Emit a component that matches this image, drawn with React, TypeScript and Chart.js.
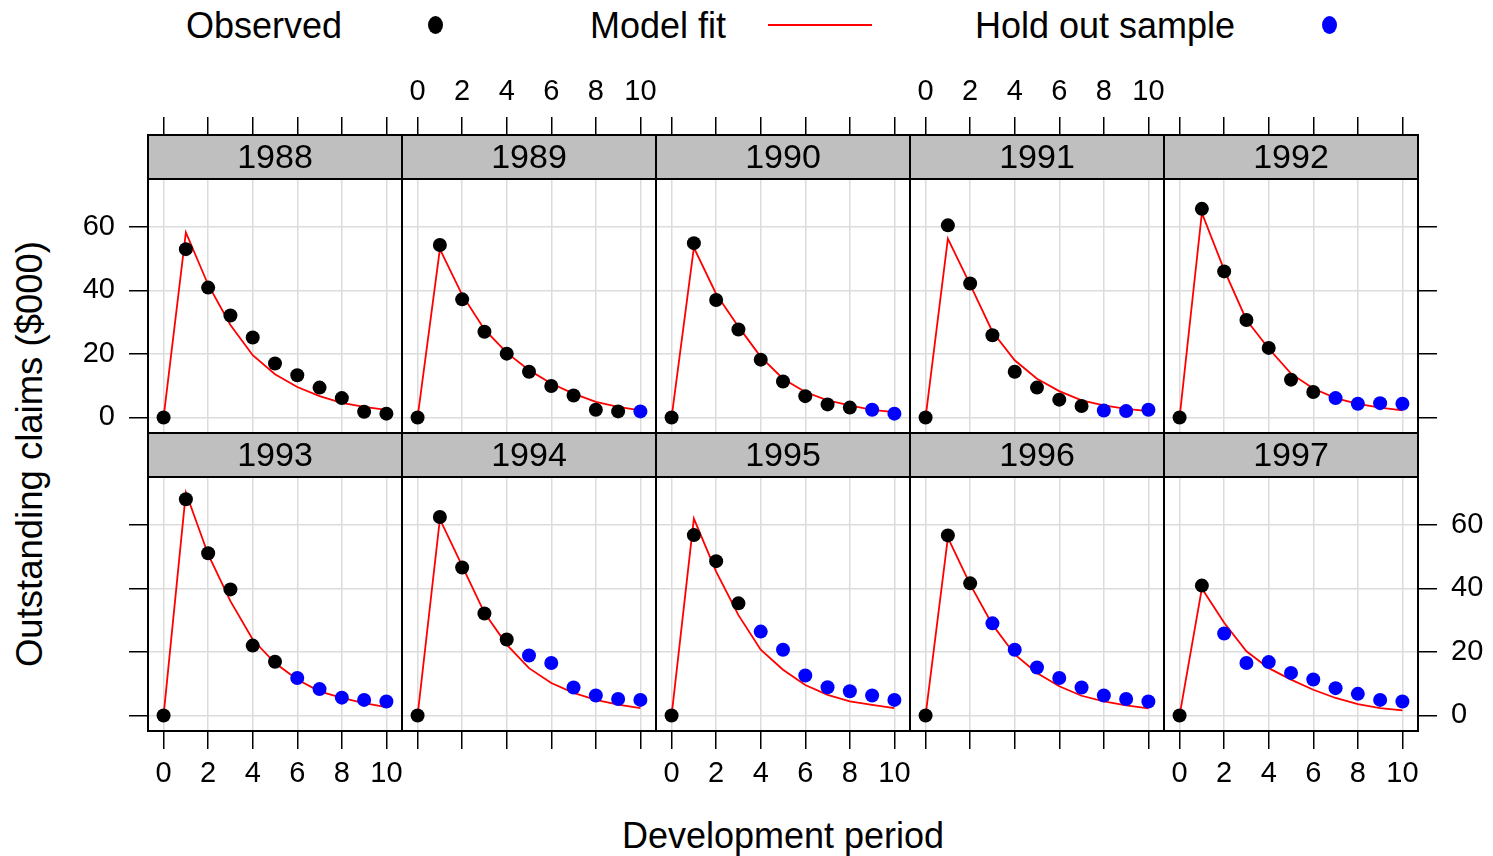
import { useEffect, useRef } from 'react';
import { Chart, registerables } from 'chart.js';

Chart.register(...registerables);

// ---- data -------------------------------------------------------------
const devPeriods = [0, 1, 2, 3, 4, 5, 6, 7, 8, 9, 10];
const accidentYears = ['1988', '1989', '1990', '1991', '1992', '1993', '1994', '1995', '1996', '1997'];
// number of leading development periods that are observed; the rest are hold-out
const observedCounts = [11, 10, 9, 8, 7, 6, 5, 4, 3, 2];

// outstanding claims ($000) by development period
const claims1988 = [0, 53.0, 40.9, 32.1, 25.2, 17.0, 13.3, 9.4, 6.1, 1.8, 1.2];
const claims1989 = [0, 54.3, 37.2, 27.0, 20.1, 14.4, 9.9, 6.9, 2.4, 1.9, 1.9];
const claims1990 = [0, 54.9, 37.0, 27.7, 18.2, 11.3, 6.7, 4.1, 3.1, 2.4, 1.2];
const claims1991 = [0, 60.5, 42.2, 25.9, 14.4, 9.4, 5.6, 3.6, 2.2, 2.0, 2.4];
const claims1992 = [0, 65.7, 46.0, 30.7, 21.9, 11.9, 8.0, 6.1, 4.3, 4.5, 4.3];
const claims1993 = [0, 68.1, 51.1, 39.7, 22.0, 16.9, 11.8, 8.3, 5.6, 4.9, 4.4];
const claims1994 = [0, 62.5, 46.6, 32.1, 23.9, 18.9, 16.5, 8.8, 6.3, 5.2, 4.9];
const claims1995 = [0, 56.8, 48.6, 35.3, 26.4, 20.7, 12.6, 8.9, 7.6, 6.3, 4.9];
const claims1996 = [0, 56.7, 41.6, 29.0, 20.7, 15.1, 11.8, 8.8, 6.3, 5.2, 4.4];
const claims1997 = [0, 40.9, 25.8, 16.5, 16.8, 13.4, 11.3, 8.6, 6.8, 4.9, 4.4];

// fitted model values ($000) by development period
const fit1988 = [0, 58.3, 41.8, 29.1, 19.6, 13.6, 9.6, 6.7, 4.6, 3.3, 2.4];
const fit1989 = [0, 53.0, 38.6, 27.7, 20.4, 14.9, 10.7, 7.5, 4.9, 3.3, 2.2];
const fit1990 = [0, 53.5, 38.9, 28.6, 19.1, 12.2, 8.0, 5.4, 3.8, 2.4, 1.7];
const fit1991 = [0, 56.3, 41.8, 27.0, 18.0, 12.2, 8.3, 5.4, 3.8, 2.7, 2.0];
const fit1992 = [0, 64.4, 46.5, 30.7, 21.7, 13.8, 9.1, 6.1, 4.3, 3.1, 2.2];
const fit1993 = [0, 70.2, 50.7, 36.0, 23.9, 16.5, 11.3, 7.6, 5.5, 3.9, 2.6];
const fit1994 = [0, 61.8, 47.1, 32.3, 22.3, 14.9, 10.2, 7.1, 4.9, 3.4, 2.3];
const fit1995 = [0, 62.0, 45.3, 31.6, 20.7, 14.4, 9.6, 6.5, 4.4, 3.3, 2.3];
const fit1996 = [0, 56.0, 41.3, 28.6, 19.2, 13.4, 9.2, 6.2, 4.4, 3.2, 2.2];
const fit1997 = [0, 40.0, 29.2, 20.2, 14.9, 11.3, 8.1, 5.5, 3.6, 2.3, 1.6];

const claimsByYear = [claims1988, claims1989, claims1990, claims1991, claims1992, claims1993, claims1994, claims1995, claims1996, claims1997];
const fitByYear = [fit1988, fit1989, fit1990, fit1991, fit1992, fit1993, fit1994, fit1995, fit1996, fit1997];

const xTickValues = [0, 2, 4, 6, 8, 10];
const yTickValues = [0, 20, 40, 60];

// ---- layout & style ----------------------------------------------------
const FONT = '"Liberation Sans", Arial, Helvetica, sans-serif';
const GRID = '#dcdcdc';
const STRIP_FILL = '#bfbfbf';
const OBS_COLOR = '#000000';
const HOLD_COLOR = '#0000ff';
const FIT_COLOR = '#ff0000';

const X_MIN = -0.7;
const X_MAX = 10.7;
const Y_MIN = -4.9;
const Y_MAX = 75.1;

const PANEL_LEFT = 148;
const PANEL_W = 254;
const STRIP_H = 44;
const PLOT_H = 254;
const ROW_TOP = [135, 433];

const LEFT_AXIS_W = 90;
const RIGHT_AXIS_W = 75;
const TOP_AXIS_H = 75;
const BOTTOM_AXIS_H = 70;

// the strip sits inside the chart area, above the data region
const Y_TOP = Y_MAX + ((Y_MAX - Y_MIN) * STRIP_H) / PLOT_H;

function Panel({ index }: { index: number }) {
  const ref = useRef<HTMLCanvasElement>(null);
  const row = Math.floor(index / 5);
  const col = index % 5;
  const hasLeft = col === 0;
  const hasRight = col === 4;
  const hasTop = row === 0;
  const hasBottom = row === 1;
  const showXLabels = hasTop ? col === 1 || col === 3 : col % 2 === 0;
  const showYLabels = (hasTop && hasLeft) || (hasBottom && hasRight);

  const lw = hasLeft ? LEFT_AXIS_W : 0;
  const rw = hasRight ? RIGHT_AXIS_W : 0;
  const th = hasTop ? TOP_AXIS_H : 0;
  const bh = hasBottom ? BOTTOM_AXIS_H : 0;
  const left = PANEL_LEFT + col * PANEL_W - lw;
  const top = ROW_TOP[row] - th;
  const width = lw + PANEL_W + rw;
  const height = th + STRIP_H + PLOT_H + bh;

  useEffect(() => {
    const canvas = ref.current;
    if (!canvas) return;
    const values = claimsByYear[index];
    const fitted = fitByYear[index];
    const nObs = observedCounts[index];
    const observed = values.slice(0, nObs).map((v, i) => ({ x: devPeriods[i], y: v }));
    const holdout = values.slice(nObs).map((v, i) => ({ x: devPeriods[nObs + i], y: v }));
    const fitLine = fitted.map((v, i) => ({ x: devPeriods[i], y: v }));
    const label = accidentYears[index];

    const zeroPad = (s: any) => {
      s.paddingLeft = 0;
      s.paddingRight = 0;
      s.paddingTop = 0;
      s.paddingBottom = 0;
    };

    const framePlugin = {
      id: 'panelFrame',
      beforeDatasetsDraw(chart: any) {
        const { ctx, chartArea: a } = chart;
        const yScale = chart.scales.y;
        const stripBottom = Math.round(yScale.getPixelForValue(Y_MAX));
        ctx.save();
        ctx.fillStyle = STRIP_FILL;
        ctx.fillRect(a.left, a.top, a.right - a.left, stripBottom - a.top);
        ctx.fillStyle = '#000';
        ctx.font = `34px ${FONT}`;
        ctx.textAlign = 'center';
        ctx.textBaseline = 'middle';
        ctx.fillText(label, (a.left + a.right) / 2, (a.top + stripBottom) / 2 + 2);
        ctx.restore();
      },
      afterDatasetsDraw(chart: any) {
        const { ctx, chartArea: a } = chart;
        const yScale = chart.scales.y;
        const stripBottom = Math.round(yScale.getPixelForValue(Y_MAX));
        ctx.save();
        ctx.strokeStyle = '#000';
        ctx.lineWidth = 2;
        // frame centred on the panel edges so neighbouring panels share one line
        ctx.strokeRect(a.left, a.top, a.right - a.left, a.bottom - a.top);
        ctx.beginPath();
        ctx.moveTo(a.left, stripBottom);
        ctx.lineTo(a.right, stripBottom);
        ctx.stroke();
        ctx.restore();
      },
    };

    const chart = new Chart(canvas, {
      type: 'scatter',
      data: {
        datasets: [
          {
            label: 'Observed',
            data: observed,
            backgroundColor: OBS_COLOR,
            borderColor: OBS_COLOR,
            pointRadius: 7,
            pointBorderWidth: 0,
          },
          {
            label: 'Hold out sample',
            data: holdout,
            backgroundColor: HOLD_COLOR,
            borderColor: HOLD_COLOR,
            pointRadius: 7,
            pointBorderWidth: 0,
          },
          {
            label: 'Model fit',
            data: fitLine,
            showLine: true,
            borderColor: FIT_COLOR,
            backgroundColor: FIT_COLOR,
            borderWidth: 1.8,
            pointRadius: 0,
            tension: 0,
          },
        ],
      },
      options: {
        animation: false,
        responsive: false,
        devicePixelRatio: 1,
        layout: { padding: 0, autoPadding: false },
        plugins: {
          legend: { display: false },
          tooltip: { enabled: false },
        },
        events: [],
        scales: {
          x: {
            type: 'linear',
            position: hasTop ? 'top' : 'bottom',
            min: X_MIN,
            max: X_MAX,
            afterBuildTicks: (s: any) => {
              s.ticks = xTickValues.map((v) => ({ value: v }));
            },
            grid: {
              color: GRID,
              lineWidth: 1.5,
              drawTicks: true,
              tickLength: 18,
              tickColor: '#000',
              tickWidth: 1.5,
            },
            border: { display: false },
            ticks: {
              color: showXLabels ? '#000' : 'rgba(0,0,0,0)',
              font: { family: FONT, size: 29 },
              padding: 8,
              maxRotation: 0,
              autoSkip: false,
              callback: (v: any) => String(v),
            },
            afterFit: (s: any) => {
              s.height = hasTop ? TOP_AXIS_H : BOTTOM_AXIS_H;
              zeroPad(s);
            },
          },
          y: {
            type: 'linear',
            position: hasRight ? 'right' : 'left',
            min: Y_MIN,
            max: Y_TOP,
            afterBuildTicks: (s: any) => {
              s.ticks = yTickValues.map((v) => ({ value: v }));
            },
            grid: {
              color: GRID,
              lineWidth: 1.5,
              drawTicks: hasLeft || hasRight,
              tickLength: 19,
              tickColor: '#000',
              tickWidth: 1.5,
            },
            border: { display: false },
            ticks: {
              color: showYLabels ? '#000' : 'rgba(0,0,0,0)',
              font: { family: FONT, size: 29 },
              padding: 14,
              autoSkip: false,
              callback: (v: any) => String(v),
            },
            afterFit: (s: any) => {
              s.width = hasLeft ? LEFT_AXIS_W : hasRight ? RIGHT_AXIS_W : 0;
              zeroPad(s);
            },
          },
        },
      } as any,
      plugins: [framePlugin],
    });
    return () => chart.destroy();
  }, [index]);

  return (
    <canvas
      ref={ref}
      width={width}
      height={height}
      style={{ position: 'absolute', left, top, width, height }}
    />
  );
}

const legendText: React.CSSProperties = {
  position: 'absolute',
  top: 6,
  fontSize: 36,
  lineHeight: '40px',
  whiteSpace: 'nowrap',
};

export default function App() {
  return (
    <div
      style={{
        position: 'fixed',
        left: 0,
        top: 0,
        width: 1493,
        height: 856,
        background: '#fff',
        overflow: 'hidden',
        fontFamily: FONT,
        color: '#000',
      }}
    >
      {/* key */}
      <div style={{ ...legendText, left: 186 }}>Observed</div>
      <div
        style={{
          position: 'absolute',
          left: 428,
          top: 16,
          width: 15,
          height: 18,
          borderRadius: '50%',
          background: OBS_COLOR,
        }}
      />
      <div style={{ ...legendText, left: 590 }}>Model fit</div>
      <div
        style={{
          position: 'absolute',
          left: 768,
          top: 24,
          width: 104,
          height: 2,
          background: FIT_COLOR,
        }}
      />
      <div style={{ ...legendText, left: 975 }}>Hold out sample</div>
      <div
        style={{
          position: 'absolute',
          left: 1322,
          top: 16,
          width: 15,
          height: 18,
          borderRadius: '50%',
          background: HOLD_COLOR,
        }}
      />

      {accidentYears.map((y, i) => (
        <Panel key={y} index={i} />
      ))}

      <div
        style={{
          position: 'absolute',
          left: 30,
          top: 454,
          fontSize: 36.5,
          whiteSpace: 'nowrap',
          transform: 'translate(-50%, -50%) rotate(-90deg)',
        }}
      >
        Outstanding claims ($000)
      </div>
      <div
        style={{
          position: 'absolute',
          left: 783,
          top: 836,
          fontSize: 36,
          whiteSpace: 'nowrap',
          transform: 'translate(-50%, -50%)',
        }}
      >
        Development period
      </div>
    </div>
  );
}
